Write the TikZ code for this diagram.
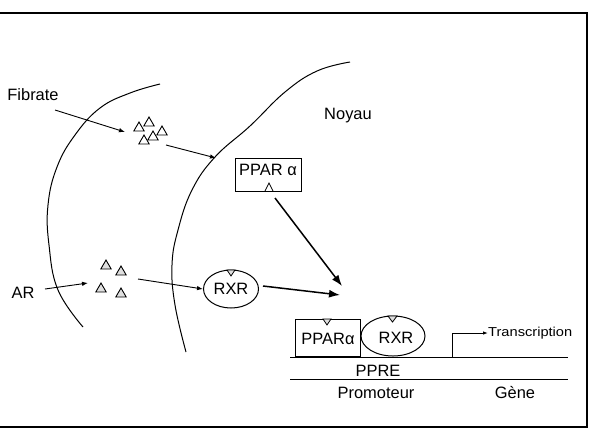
\documentclass[tikz,border=0pt]{standalone}
\usepackage{fontspec}
\setmainfont{Liberation Sans}
\newfontfamily\widefont[FakeStretch=1.13]{Liberation Sans}
\usetikzlibrary{shapes.geometric,arrows.meta}
\begin{document}
\begin{tikzpicture}[x=1bp,y=-1bp,
  lbl/.style={inner sep=0pt, font=\fontsize{16.5}{19}\selectfont},
  smalllbl/.style={inner sep=0pt, font=\widefont\fontsize{13}{15}\selectfont},
  tri/.style={regular polygon, regular polygon sides=3, draw, inner sep=0pt, minimum size=12bp, line width=0.9bp, fill=gray!25},
  wtri/.style={tri, fill=white},
  thinarr/.style={line width=0.9bp, -{Latex[length=6bp,width=4.5bp]}},
  thickarr/.style={line width=1.5bp, -{Latex[length=11bp,width=8bp]}},
  membrane/.style={line width=1bp},
  boxst/.style={draw, line width=1bp, rectangle, inner sep=0pt},
  ell/.style={draw, line width=1bp, ellipse, inner sep=0pt},
  ligcap/.style={draw, line width=0.8bp, fill=gray!25}
]
\useasboundingbox (0,0) rectangle (616,430);
% frame
\draw[line width=1.2bp] (0,13) -- (587,13) -- (587,427) -- (0,427);

% membranes
\draw[membrane] plot[smooth, tension=0.7] coordinates {(160,84) (130,93) (100,108) (75,135) (57,167) (48,205) (49,245) (58,290) (83,327)};
\draw[membrane] plot[smooth, tension=0.7] coordinates {(350,62) (317,71) (285,92) (250,126) (215,157) (192,190) (178,230) (172,265) (175,305) (186,352)};

% labels
\node[lbl] (fib) at (33,95) {Fibrate};
\node[lbl] (noy) at (348,116) {Noyau};
\node[lbl] (ar) at (23,293) {AR};

% fibrate triangles
\node[wtri] (f1) at (139,128) {};
\node[wtri] (f2) at (149,123) {};
\node[wtri] (f3) at (144,141) {};
\node[wtri] (f4) at (153,137) {};
\node[wtri] (f5) at (162,132) {};

% AR triangles
\node[tri] (a1) at (106,266) {};
\node[tri] (a2) at (121,272) {};
\node[tri] (a3) at (101,289) {};
\node[tri] (a4) at (121,294) {};

% PPAR alpha box (nucleus)
\node[boxst, minimum width=66bp, minimum height=33bp] (ppar) at (268,174.5) {};
\node[lbl] (ppart) at (268,170) {PPAR α};
\draw[line width=0.8bp] (265,191) -- (269,183) -- (273,191);

% RXR ellipse
\node[ell, minimum width=55bp, minimum height=38bp] (rxr) at (231,289) {};
\node[lbl] at (rxr.center) {RXR};
\draw[ligcap] (227,270) -- (235,270) -- (231,276) -- cycle;

% arrows
\coordinate (fibs) at (55,110);
\coordinate (fibe) at (125,132);
\coordinate (tfs) at (166,145);
\coordinate (tfe) at (216,158);
\coordinate (ars) at (45,289);
\coordinate (are) at (88,283);
\coordinate (ats) at (138,279);
\coordinate (ppars) at (275,198);
\coordinate (meet) at (342,286);
\coordinate (meet2) at (340,295);
\coordinate (rxre) at (263,286);
\draw[thinarr] (fibs) -- (fibe);
\draw[thinarr] (tfs) -- (tfe);
\draw[thinarr] (ars) -- (are);
\draw[thinarr] (ats) -- (rxr.west);
\draw[thickarr] (ppars) -- (meet);
\draw[thickarr] (rxre) -- (meet2);

% DNA complex
\node[boxst, minimum width=65bp, minimum height=37bp] (ppar2) at (327.5,337.5) {};
\node[lbl] at (328,339) {PPARα};
\draw[ligcap] (323,319) -- (331,319) -- (327,325) -- cycle;
\node[ell, minimum width=64bp, minimum height=40bp] (rxr2) at (393,336) {};
\node[lbl] at (396,338) {RXR};
\draw[ligcap] (388,316) -- (397,316) -- (392.5,322) -- cycle;

\coordinate (l1a) at (290,357);
\coordinate (l1b) at (568,357);
\coordinate (l2a) at (290,379);
\coordinate (l2b) at (568,379);
\draw[line width=1bp] (l1a) -- (l1b);
\draw[line width=1bp] (l2a) -- (l2b);
\node[lbl] (ppre) at (378,371) {PPRE};
\node[lbl] (prom) at (376,393) {Promoteur};
\node[lbl] (gene) at (515,393) {Gène};

\coordinate (ts) at (452,357);
\node[smalllbl, anchor=west] (trans) at (488,333) {Transcription};
\draw[line width=0.9bp, -{Latex[length=5bp,width=3.5bp]}] (ts) |- (trans.west);
\end{tikzpicture}
\end{document}
